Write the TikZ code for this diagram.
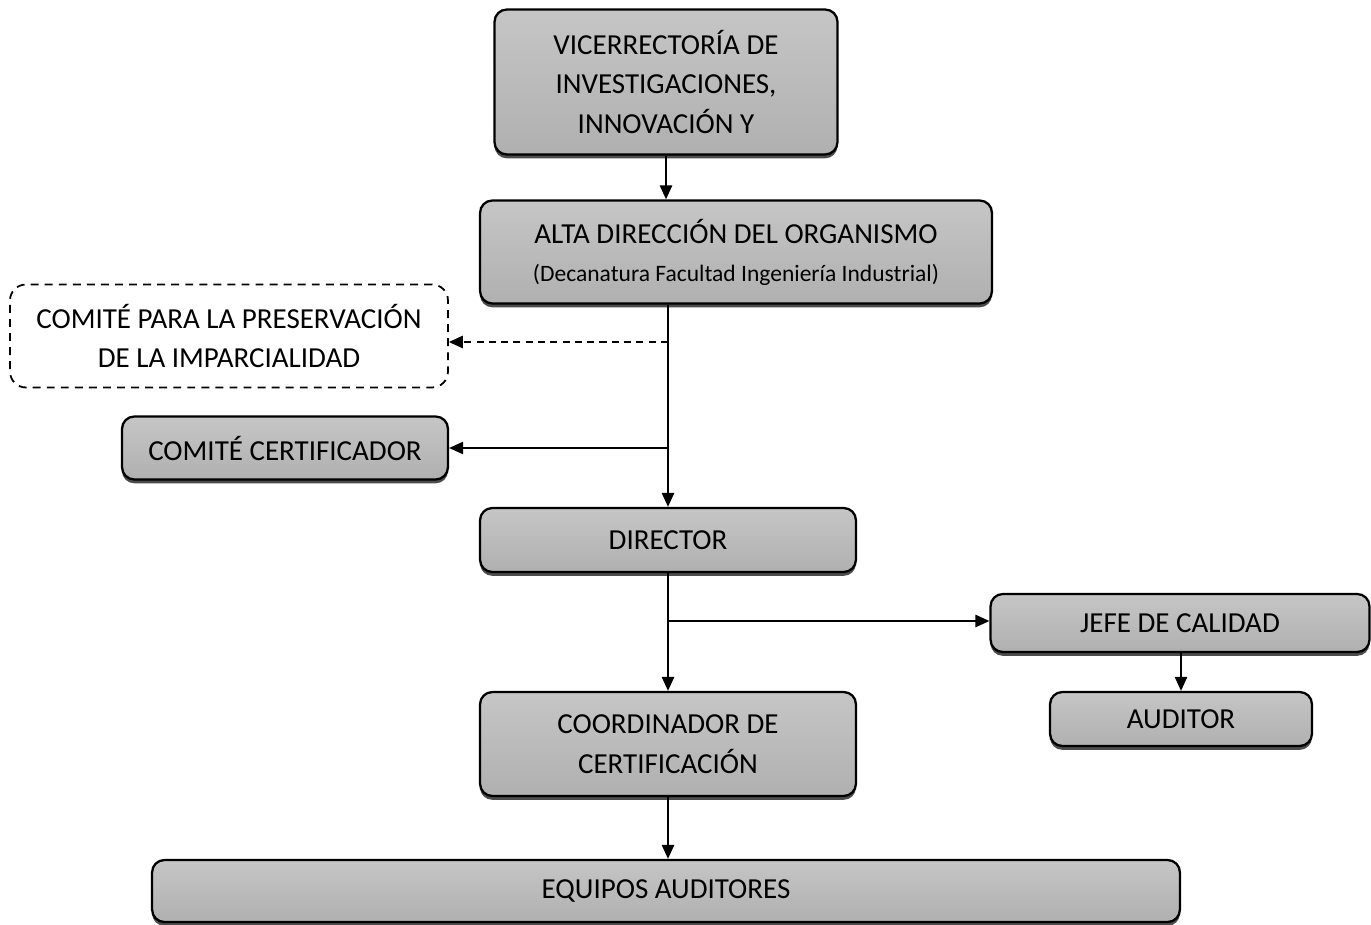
\documentclass[tikz,border=0pt]{standalone}
\usepackage{fontspec}
\setmainfont{Carlito}
\usetikzlibrary{positioning, arrows.meta, shadows}

\tikzset{
  box/.style={rectangle, rounded corners=7pt, draw=black, line width=1.3pt,
    top color=gray!45, bottom color=gray!62, align=center,
    font=\fontsize{16.5}{22.7}\selectfont,
    drop shadow={shadow xshift=0pt, shadow yshift=-2.2pt, fill=black!70, opacity=1}},
  dbox/.style={rectangle, rounded corners=9pt, draw=black, line width=1pt,
    dash pattern=on 4.5pt off 3.5pt, fill=white, align=center,
    font=\fontsize{16.5}{22.7}\selectfont},
  con/.style={line width=1.1pt, -{Triangle[length=8pt,width=7pt]}}
}

\begin{document}
\begin{tikzpicture}[x=0.02cm, y=-0.02cm]

\useasboundingbox (0,0) rectangle (1371,925);

\node[box, minimum width=6.86cm, minimum height=2.9cm] (vice) at (666,82)
  {VICERRECTORÍA DE\\INVESTIGACIONES,\\INNOVACIÓN Y};
\node[box, minimum width=10.24cm, minimum height=2.06cm] (alta) at (736,252)
  {ALTA DIRECCIÓN DEL ORGANISMO\\[-1pt]{\fontsize{13.4}{20}\selectfont(Decanatura Facultad Ingeniería Industrial)}};
\node[dbox, minimum width=8.76cm, minimum height=2.06cm] (pres) at (229,336)
  {COMITÉ PARA LA PRESERVACIÓN\\DE LA IMPARCIALIDAD};
\node[box, minimum width=6.52cm, minimum height=1.26cm] (cert) at (285,448)
  {COMITÉ CERTIFICADOR};
\node[box, minimum width=7.52cm, minimum height=1.28cm] (dir) at (668,540)
  {DIRECTOR};
\node[box, minimum width=7.58cm, minimum height=1.16cm] (jefe) at (1180,623)
  {JEFE DE CALIDAD};
\node[box, minimum width=5.24cm, minimum height=1.08cm] (aud) at (1181,719)
  {AUDITOR};
\node[box, minimum width=7.52cm, minimum height=2.08cm] (coord) at (668,744)
  {COORDINADOR DE\\CERTIFICACIÓN};
\node[box, minimum width=20.56cm, minimum height=1.24cm] (equip) at (666,891)
  {EQUIPOS AUDITORES};

% branch points
\coordinate (bpres) at (668,342);
\coordinate (bcert) at (668,448);
\coordinate (bjefe) at (668,621);

\draw[con] (vice.south -| 666,0) -- (alta.north -| 666,0);
\draw[con] (alta.south -| dir.north) -- (dir.north);
\draw[con, dash pattern=on 4pt off 3pt] (bpres) -- (bpres -| pres.east);
\draw[con, line width=0.8pt] (bcert) -- (cert.east);
\draw[con] (dir.south) -- (coord.north);
\draw[con] (bjefe) -- (bjefe -| jefe.west);
\draw[con] (jefe.south -| aud.north) -- (aud.north);
\draw[con] (coord.south) -- (equip.north -| coord.south);

\end{tikzpicture}
\end{document}
